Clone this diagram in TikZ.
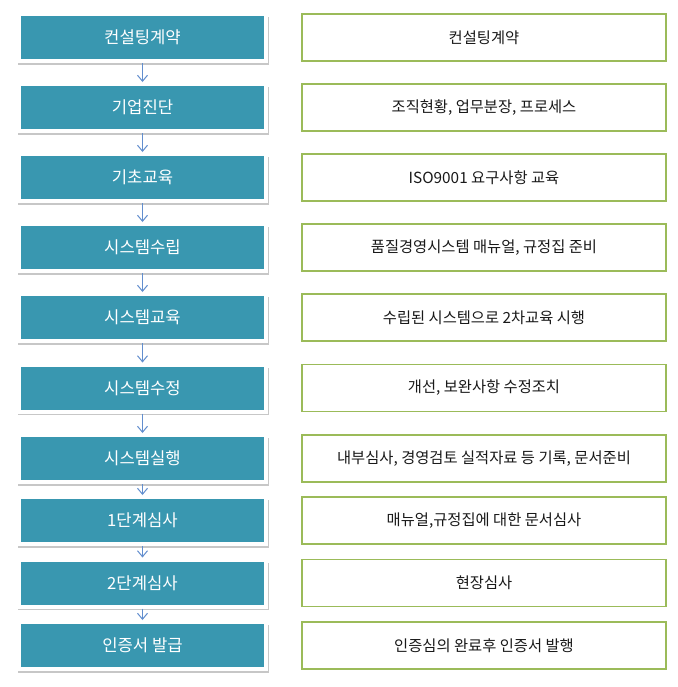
\documentclass[tikz,border=0pt]{standalone}
\usepackage{fontspec}
\setmainfont{Noto Sans CJK KR}
\usepackage{tikz}
\usetikzlibrary{arrows.meta, positioning, shadows}
\usepackage{xcolor}
\definecolor{stepTeal}{RGB}{57, 151, 176}
\definecolor{noteGreen}{RGB}{155, 187, 89}
\definecolor{flowBlue}{RGB}{98, 142, 206}

\begin{document}
\begin{tikzpicture}[
    x=0.75pt, y=-0.75pt,
    every node/.style={inner sep=0pt},
    stage/.style={rectangle, fill=stepTeal, draw=white, line width=3pt, minimum width=185.25pt, minimum height=35.25pt, text=white, font=\fontsize{12.5}{14}\selectfont, drop shadow={shadow xshift=0.8pt, shadow yshift=-2.6pt, shadow scale=1.016, fill=black!40, opacity=0.55}},
    detail/.style={rectangle, draw=noteGreen, fill=white, line width=1.1pt, minimum width=273pt, minimum height=35.25pt, text=black!90, font=\fontsize{11.5}{13}\selectfont},
    flow/.style={-{Straight Barb[length=4.5pt, width=7.5pt]}, draw=flowBlue, line width=0.75pt},
]
\useasboundingbox (0,0) rectangle (678,687);
\node[stage] (S1) at (142.5, 37.5) {컨설팅계약};
\node[stage] (S2) at (142.5, 107.5) {기업진단};
\node[stage] (S3) at (142.5, 177.5) {기초교육};
\node[stage] (S4) at (142.5, 247.5) {시스템수립};
\node[stage] (S5) at (142.5, 317.5) {시스템교육};
\node[stage] (S6) at (142.5, 388) {시스템수정};
\node[stage] (S7) at (142.5, 458.5) {시스템실행};
\node[stage] (S8) at (142.5, 520.5) {1단계심사};
\node[stage] (S9) at (142.5, 583) {2단계심사};
\node[stage] (S10) at (142.5, 645.5) {인증서 발급};
\node[detail] (D1) at (484, 37.5) {컨설팅계약};
\node[detail] (D2) at (484, 107.5) {조직현황, 업무분장, 프로세스};
\node[detail] (D3) at (484, 177.5) {ISO9001 요구사항 교육};
\node[detail] (D4) at (484, 247.5) {품질경영시스템 매뉴얼, 규정집 준비};
\node[detail] (D5) at (484, 317.5) {수립된 시스템으로 2차교육 시행};
\node[detail] (D6) at (484, 388) {개선, 보완사항 수정조치};
\node[detail] (D7) at (484, 458.5) {내부심사, 경영검토 실적자료 등 기록, 문서준비};
\node[detail] (D8) at (484, 520.5) {매뉴얼,규정집에 대한 문서심사};
\node[detail] (D9) at (484, 583) {현장심사};
\node[detail] (D10) at (484, 645.5) {인증심의 완료후 인증서 발행};
\draw[flow] (S1.south) -- (S2.north); \draw[flow] (S2.south) -- (S3.north);
\draw[flow] (S3.south) -- (S4.north); \draw[flow] (S4.south) -- (S5.north);
\draw[flow] (S5.south) -- (S6.north); \draw[flow] (S6.south) -- (S7.north);
\draw[flow] (S7.south) -- (S8.north); \draw[flow] (S8.south) -- (S9.north);
\draw[flow] (S9.south) -- (S10.north);
\end{tikzpicture}
\end{document}
